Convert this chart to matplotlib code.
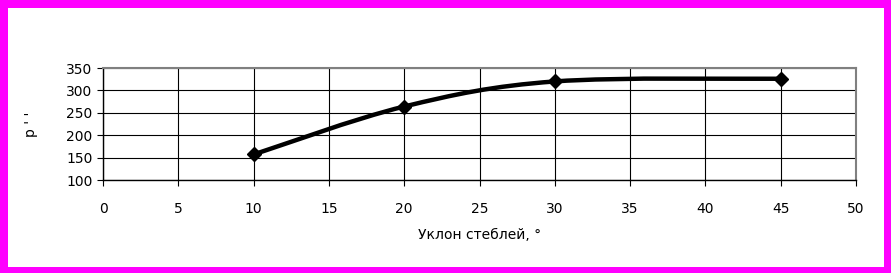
import matplotlib
matplotlib.use('Agg')
import matplotlib.pyplot as plt
from matplotlib.path import Path
from matplotlib.patches import PathPatch, Rectangle

plt.rcParams['font.family'] = ['DejaVu Sans']

# data
angle = [10, 20, 30, 45]
pressure = [157, 264, 320, 326]
x_ticks = [0, 5, 10, 15, 20, 25, 30, 35, 40, 45, 50]
y_ticks = [100, 150, 200, 250, 300, 350]
x_label = 'Уклон стеблей, °'
y_label = "р ' '"

fig = plt.figure(figsize=(8.91, 2.73), dpi=100)
fig.patch.set_facecolor('#ff00ff')
# white inner area inside the magenta frame
fig.add_artist(Rectangle((8 / 891, 6 / 273), (884 - 8) / 891, (267 - 8) / 273,
                         transform=fig.transFigure, facecolor='white',
                         edgecolor='none', zorder=-10))

ax = fig.add_axes([103 / 891, 1 - 180 / 273, (856 - 103) / 891, (180 - 68) / 273])
ax.set_facecolor('white')

# smoothed line like the spreadsheet draws it (catmull-rom -> bezier)
pts = list(zip(angle, pressure))
verts = [pts[0]]
codes = [Path.MOVETO]
for i in range(len(pts) - 1):
    p0 = pts[i - 1] if i > 0 else pts[i]
    p1 = pts[i]
    p2 = pts[i + 1]
    p3 = pts[i + 2] if i + 2 < len(pts) else pts[i + 1]
    c1 = (p1[0] + (p2[0] - p0[0]) / 6, p1[1] + (p2[1] - p0[1]) / 6)
    c2 = (p2[0] - (p3[0] - p1[0]) / 6, p2[1] - (p3[1] - p1[1]) / 6)
    verts += [c1, c2, p2]
    codes += [Path.CURVE4] * 3
ax.add_patch(PathPatch(Path(verts, codes), facecolor='none', edgecolor='black',
                       lw=3.2, zorder=3, capstyle='round', joinstyle='round'))
ax.plot(angle, pressure, linestyle='none', marker='D', ms=7, color='black', zorder=4)

ax.set_xlim(0, 50)
ax.set_ylim(100, 350)
ax.set_xticks(x_ticks)
ax.set_yticks(y_ticks)
ax.grid(True, color='black', lw=0.8)
ax.set_axisbelow(True)

for s in ['left', 'bottom']:
    ax.spines[s].set_color('black')
    ax.spines[s].set_linewidth(1)
for s in ['top', 'right']:
    ax.spines[s].set_color('#808080')
    ax.spines[s].set_linewidth(1.5)

ax.tick_params(axis='both', direction='out', length=4.5, width=0.8, labelsize=10,
               colors='black')
ax.tick_params(axis='x', pad=11)
ax.tick_params(axis='y', pad=3)
ax.set_xlabel(x_label, fontsize=10, labelpad=9)
ax.set_ylabel(y_label, fontsize=10, labelpad=20)

fig.savefig('out.png', dpi=100, facecolor=fig.get_facecolor())
